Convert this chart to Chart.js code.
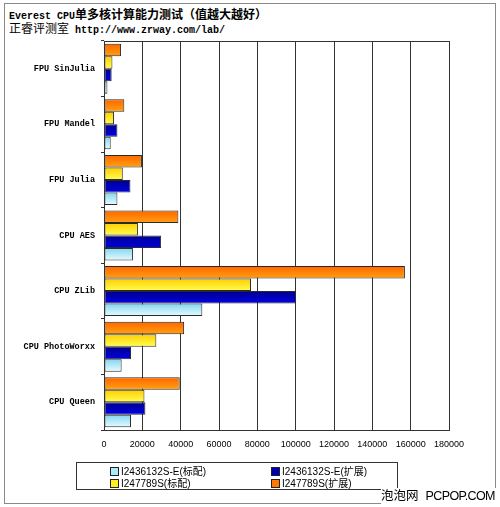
<!DOCTYPE html>
<html><head><meta charset="utf-8">
<script src="https://cdn.jsdelivr.net/npm/chart.js@4"></script>
<style>
body{margin:0;width:500px;height:507px;background:#fff;position:relative;overflow:hidden;font-family:"Liberation Sans","Noto Sans CJK SC",sans-serif;color:#000}
#frame{position:absolute;left:4px;top:3px;width:492px;height:501px;border:1px solid #8a8a8a;box-sizing:border-box}
#c{position:absolute;left:0;top:0}
.t{position:absolute;left:9px;white-space:nowrap;line-height:14px;font-family:"Noto Sans CJK SC",sans-serif;font-size:12px}
.m{font-family:"Liberation Mono",monospace;font-size:10px;font-weight:bold}
#legend{position:absolute;left:76px;top:462px;width:322px;height:28px;border:1px solid #333;box-sizing:border-box}
.li{position:absolute;font-size:10px;line-height:12px;white-space:nowrap;font-family:"Liberation Sans","Noto Sans CJK SC",sans-serif}
.sw{display:inline-block;width:7px;height:7px;border:1px solid #222;margin-right:2px;vertical-align:-1px}
#wm{position:absolute;left:381px;top:488px;font-size:12.5px;line-height:16px;white-space:nowrap;background:#fff;padding-right:1px}
#wm .e{font-family:"Liberation Sans",sans-serif;letter-spacing:-0.6px;margin-left:7px}
</style></head>
<body>
<div id="frame"></div>
<div class="t" style="top:7px;font-weight:bold"><span class="m">Everest CPU</span>单多核计算能力测试（值越大越好）</div>
<div class="t" style="top:21px">正睿评测室<span class="m"> http://www.zrway.com/lab/</span></div>
<canvas id="c" width="500" height="507"></canvas>
<div id="legend"></div>
<div id="wm">泡泡网<span class="e">PCPOP.COM</span></div>
<script>
const categories = ['FPU SinJulia','FPU Mandel','FPU Julia','CPU AES','CPU ZLib','CPU PhotoWorxx','CPU Queen'];
const seriesNames = ['I2436132S-E(标配)','I2436132S-E(扩展)','I247789S(标配)','I247789S(扩展)'];
const s2436std = [1800, 3500, 7000, 15100, 51300, 9200, 14100];
const s2436ext = [4000, 7000, 13800, 29800, 100200, 14100, 21600];
const s247std  = [4400, 5200, 9800, 17700, 76700, 27300, 21100];
const s247ext  = [8900, 10600, 19800, 38800, 157000, 41800, 39500];
const xTicks = [0,20000,40000,60000,80000,100000,120000,140000,160000,180000];

const colorTop = ['#7fd6f0','#00008a','#ffcc00','#ff6600'];
const colorBot = ['#eafbff','#0000e6','#ffff50','#ffa010'];
const swatch = ['#aee8fa','#0000b0','#ffee20','#ff7a00'];

const CAT_PCT = 0.9;
// chart dataset order: orange at top, then yellow, blue, light blue
const order = [3,2,1,0];
const seriesData = [s2436std, s2436ext, s247std, s247ext];

function gradFor(si, pos){
  return (ctx)=>{
    const ch = ctx.chart, ca = ch.chartArea, ys = ch.scales.y;
    if(!ca || !ys || ctx.dataIndex === undefined) return colorTop[si];
    const band = (ca.bottom - ca.top) / categories.length;
    const barH = band * CAT_PCT / order.length;
    const c = ys.getPixelForValue(ctx.dataIndex);
    const y0 = c - band*CAT_PCT/2 + pos*barH;
    const g = ch.ctx.createLinearGradient(0, y0, 0, y0 + barH);
    g.addColorStop(0, colorTop[si]);
    g.addColorStop(1, colorBot[si]);
    return g;
  };
}

const datasets = order.map((si,pos)=>({
  label: seriesNames[si],
  data: seriesData[si],
  backgroundColor: gradFor(si,pos),
  borderColor: '#2a2a2a',
  borderWidth: 1,
  borderSkipped: false,
  categoryPercentage: CAT_PCT,
  barPercentage: 1.0
}));

const plotBorder = {
  id:'plotBorder',
  afterDraw(chart){
    const {ctx, chartArea:a} = chart;
    ctx.save();
    ctx.strokeStyle = '#333';
    ctx.lineWidth = 1;
    ctx.strokeRect(Math.round(a.left)+0.5, Math.round(a.top)+0.5, Math.round(a.right-a.left), Math.round(a.bottom-a.top));
    ctx.restore();
  }
};

new Chart(document.getElementById('c'), {
  type:'bar',
  data:{labels:categories, datasets},
  plugins:[plotBorder],
  options:{
    indexAxis:'y',
    responsive:false,
    animation:false,
    devicePixelRatio:1,
    layout:{padding:{left:0,top:41,right:51,bottom:53}},
    plugins:{legend:{display:false}, tooltip:{enabled:false}},
    scales:{
      x:{
        min:0, max:180000,
        afterBuildTicks(s){ s.ticks = xTicks.map(v=>({value:v})); },
        afterFit(s){ s.height = 24; },
        ticks:{callback:v=>String(v), color:'#000', padding:9, font:{family:'Liberation Sans', size:9}, maxRotation:0},
        grid:{color:'#333', lineWidth:1, drawTicks:false},
        border:{color:'#333'}
      },
      y:{
        afterFit(s){ s.width = 104; },
        ticks:{color:'#000', padding:6, font:{family:'Liberation Mono', size:8.5, weight:'bold'}},
        grid:{drawOnChartArea:false, color:'#333', tickLength:3, offset:true},
        border:{color:'#333'}
      }
    }
  }
});

// legend in reference order
const leg = document.getElementById('legend');
const pos = [[33,3],[194,3],[33,15],[194,15]];
seriesNames.forEach((n,i)=>{
  const d = document.createElement('div');
  d.className='li';
  d.style.left = pos[i][0]+'px';
  d.style.top = pos[i][1]+'px';
  d.innerHTML = '<span class="sw" style="background:'+swatch[i]+'"></span>'+n;
  leg.appendChild(d);
});
</script>
</body></html>
